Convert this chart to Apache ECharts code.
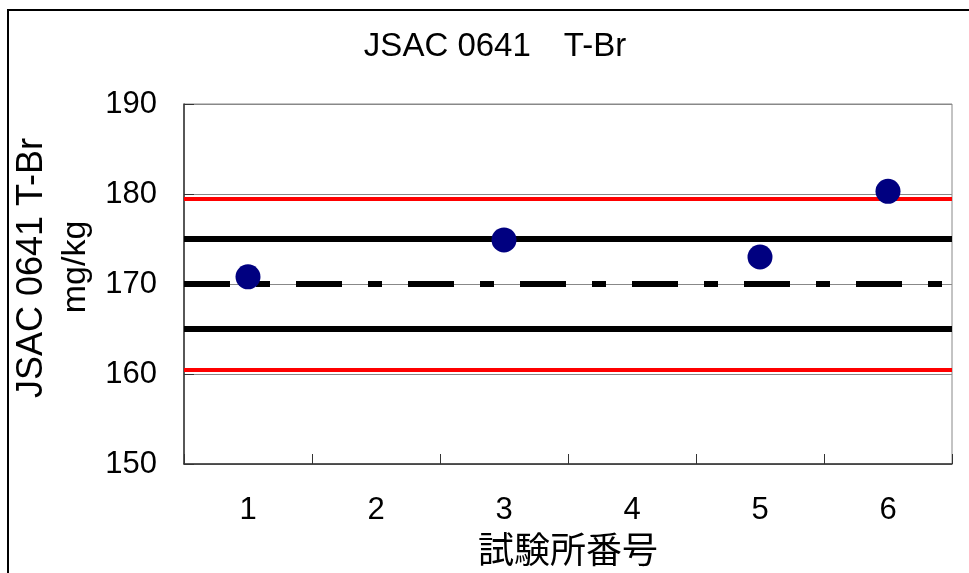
<!DOCTYPE html>
<html>
<head>
<meta charset="utf-8">
<script src="https://cdn.jsdelivr.net/npm/echarts@6/dist/echarts.min.js"></script>
<style>
html,body{margin:0;padding:0;background:#fff;}
#chart{width:969px;height:573px;}
</style>
</head>
<body>
<div id="chart"></div>
<script>
// ---- data ----
const categories = ['1', '2', '3', '4', '5', '6'];
const labValues = [170.8, null, 174.9, null, 173.0, 180.3];
const assignedValue = 170;
const innerLimits = [165, 175];
const outerLimits = [160.5, 179.5];
const yTicks = [150, 160, 170, 180, 190];

const chartTitle = 'JSAC 0641\u3000T-Br';
const yTitle = 'JSAC 0641 T-Br';
const yUnit = 'mg/kg';
const xTitle = '試験所番号';

const FONT = "'Liberation Sans', 'Noto Sans CJK JP', sans-serif";

const chart = echarts.init(document.getElementById('chart'), null, {renderer: 'canvas'});

const markData = [];
outerLimits.forEach(v => markData.push({yAxis: v, lineStyle: {color: '#ff0000', width: 4, type: 'solid'}}));
innerLimits.forEach(v => markData.push({yAxis: v, lineStyle: {color: '#000000', width: 6, type: 'solid'}}));
markData.push({yAxis: assignedValue, lineStyle: {color: '#000000', width: 6, type: [46, 26, 14, 26]}});

const option = {
  animation: false,
  backgroundColor: '#ffffff',
  grid: {
    left: 184, right: 17, top: 104, bottom: 109,
    show: true, borderColor: '#888888', borderWidth: 1, backgroundColor: 'transparent'
  },
  xAxis: {
    type: 'category',
    data: categories,
    boundaryGap: true,
    axisLine: {show: true, lineStyle: {color: '#333333', width: 1.5}},
    axisTick: {show: true, inside: true, length: 10, lineStyle: {color: '#333333', width: 1}},
    axisLabel: {fontSize: 31, color: '#000', fontFamily: FONT, margin: 31},
    splitLine: {show: false}
  },
  yAxis: {
    type: 'value',
    min: yTicks[0], max: yTicks[yTicks.length - 1], interval: 10,
    axisLine: {show: true, lineStyle: {color: '#333333', width: 1.5}},
    axisTick: {show: true, inside: true, length: 10, lineStyle: {color: '#333333', width: 1}},
    axisLabel: {fontSize: 31, color: '#000', fontFamily: FONT, margin: 27},
    splitLine: {show: true, lineStyle: {color: '#888888', width: 1}}
  },
  series: [
    {
      type: 'line',
      data: [],
      silent: true,
      z: 1,
      markLine: {
        silent: true,
        symbol: ['none', 'none'],
        label: {show: false},
        data: markData
      }
    },
    {
      type: 'scatter',
      data: labValues.map(v => v === null ? '-' : v),
      symbol: 'circle',
      symbolSize: 25,
      itemStyle: {color: '#000080', opacity: 1},
      z: 5
    }
  ],
  graphic: [
    {type: 'rect', shape: {x: 8, y: 10, width: 1000, height: 1000}, style: {fill: 'none', stroke: '#000', lineWidth: 2}, silent: true},
    {type: 'text', x: 495, y: 47, style: {text: chartTitle, fontSize: 33, fontFamily: FONT, fill: '#000', textAlign: 'center', textVerticalAlign: 'middle'}},
    {type: 'text', x: 32, y: 268, rotation: Math.PI / 2, style: {text: yTitle, fontSize: 36, fontFamily: FONT, fill: '#000', textAlign: 'center', textVerticalAlign: 'middle'}},
    {type: 'text', x: 76, y: 267, rotation: Math.PI / 2, style: {text: yUnit, fontSize: 34, fontFamily: FONT, fill: '#000', textAlign: 'center', textVerticalAlign: 'middle'}},
    {type: 'text', x: 568, y: 553, style: {text: xTitle, fontSize: 36, fontFamily: FONT, fill: '#000', textAlign: 'center', textVerticalAlign: 'middle'}}
  ]
};
chart.setOption(option);
</script>
</body>
</html>
